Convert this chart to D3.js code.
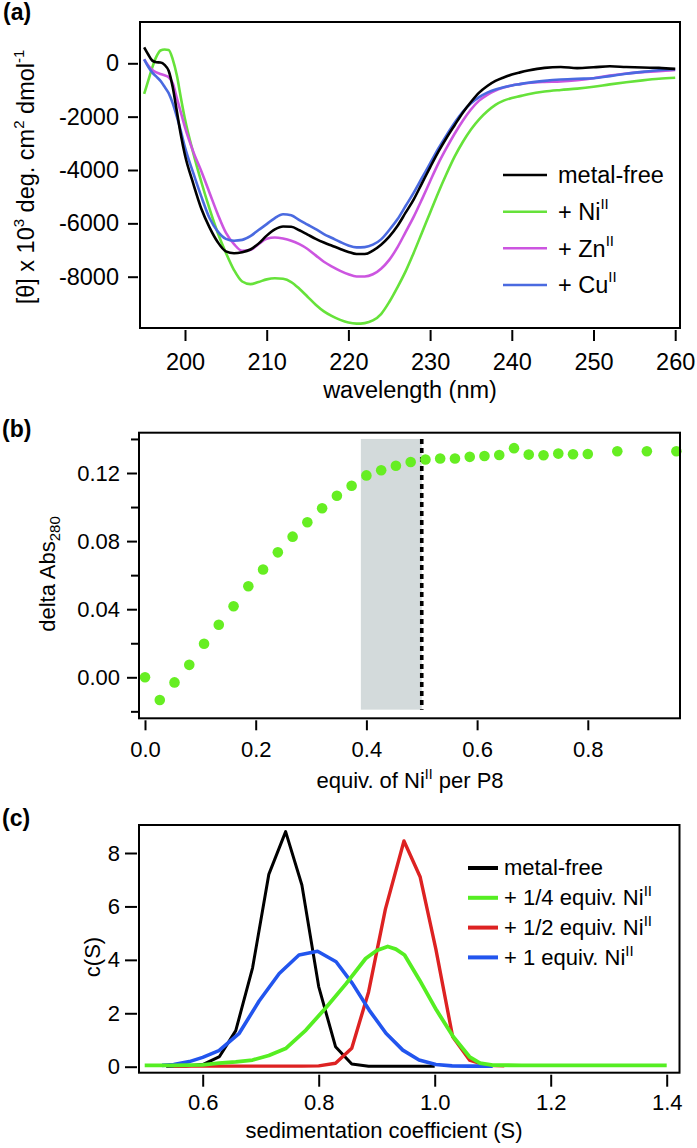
<!DOCTYPE html>
<html><head><meta charset="utf-8">
<script src="https://cdn.jsdelivr.net/npm/d3@7"></script>
<style>
body{margin:0;background:#fff;}
svg{display:block;font-family:"Liberation Sans",Arial,Helvetica,sans-serif;}
</style></head><body>
<svg id="fig" width="697" height="1148"></svg>
<script>
// ---------- Panel (a): CD spectra ----------
const cdWavelength = [195,195.5,196,196.5,197,197.5,198,198.5,199,199.5,200,
  201,202,203,204,205,206,207,208,209,210,211,212,213,214,215,216,217,218,219,220,
  221,222,223,224,225,226,227,228,229,230,231,232,233,234,235,236,237,238,239,240,241,242,
  244,246,248,250,252,254,256,258,260];
const cdMetalFree = [600,330,100,40,30,-60,-280,-900,-1800,-2700,-3450,
  -4500,-5450,-6150,-6700,-7050,-7120,-7080,-6980,-6760,-6460,-6230,-6120,-6130,-6260,-6420,-6580,-6720,-6840,-6960,-7070,
  -7150,-7150,-7020,-6800,-6500,-6100,-5600,-5100,-4500,-3900,-3320,-2800,-2320,-1850,-1450,-1100,-850,-660,-530,-420,-340,-270,
  -170,-140,-180,-150,-110,-140,-160,-170,-210];
const cdNi = [-1150,-650,-150,250,480,520,500,150,-450,-1300,-2100,
  -3350,-4450,-5450,-6350,-7100,-7750,-8180,-8280,-8200,-8100,-8060,-8080,-8200,-8450,-8750,-9050,-9300,-9480,-9620,-9720,
  -9760,-9740,-9640,-9400,-8950,-8400,-7800,-7100,-6350,-5600,-4850,-4150,-3500,-2950,-2480,-2100,-1800,-1560,-1400,-1300,-1230,-1160,
  -1060,-1000,-950,-880,-790,-710,-640,-580,-540];
const cdZn = [150,-80,-250,-340,-400,-450,-520,-750,-1300,-1850,-2400,
  -3300,-4050,-4850,-5650,-6350,-6780,-7030,-7000,-6780,-6580,-6530,-6570,-6650,-6780,-6960,-7200,-7440,-7620,-7780,-7910,
  -7990,-7990,-7910,-7700,-7370,-6900,-6330,-5750,-5100,-4420,-3760,-3180,-2640,-2150,-1730,-1400,-1180,-1020,-910,-830,-780,-740,
  -700,-680,-630,-560,-460,-380,-330,-300,-250];
const cdCu = [150,-130,-350,-500,-660,-880,-1120,-1500,-2000,-2550,-3150,
  -4100,-5000,-5800,-6300,-6580,-6650,-6620,-6480,-6250,-6030,-5800,-5660,-5700,-5880,-6050,-6220,-6400,-6550,-6700,-6830,
  -6900,-6890,-6800,-6600,-6250,-5850,-5350,-4850,-4300,-3750,-3200,-2700,-2230,-1820,-1500,-1270,-1100,-980,-900,-830,-780,-730,
  -660,-610,-580,-560,-480,-390,-320,-260,-225];
const cdLegendBase = ["metal-free","+ Ni","+ Zn","+ Cu"];
const cdLegendSup = ["","II","II","II"];
const cdXTicks = [200,210,220,230,240,250,260];
const cdYTicks = [0,-2000,-4000,-6000,-8000];
const cdYTickLabels = ["0","-2000","-4000","-6000","-8000"];

// ---------- Panel (b): titration ----------
const titrEquiv = [0,0.0267,0.0533,0.08,0.1067,0.1333,0.16,0.1867,0.2133,0.24,0.2667,0.2933,0.32,0.3467,0.3733,
  0.4,0.4267,0.4533,0.48,0.5067,0.5333,0.56,0.5867,0.6133,0.64,0.6667,0.6933,0.72,0.7467,0.7733,0.8,0.8533,0.9067,0.96];
const titrDeltaAbs = [0,-0.0133,-0.003,0.0073,0.0197,0.0309,0.0417,0.0535,0.0633,0.0734,0.0826,0.0911,0.0993,0.1066,0.1125,
  0.1186,0.1216,0.1243,0.1265,0.1279,0.1285,0.1285,0.1295,0.1300,0.1306,0.1346,0.1308,0.1304,0.1314,0.1310,0.1312,0.1328,0.1328,0.1328];
const titrShadeX = [0.39,0.5];
const titrShadeY = [-0.019,0.14];
const titrEndpoint = 0.5;
const titrXTicks = [0,0.2,0.4,0.6,0.8];
const titrXTickLabels = ["0.0","0.2","0.4","0.6","0.8"];
const titrYTicks = [0,0.04,0.08,0.12];
const titrYTickLabels = ["0.00","0.04","0.08","0.12"];
const titrYMinorTicks = [-0.02,0.02,0.06,0.10,0.14];

// ---------- Panel (c): sedimentation ----------
const sedMetalFreeS = [0.537,0.571,0.6,0.629,0.657,0.686,0.714,0.743,0.771,0.80,0.829,0.857,0.886,0.914,1.0];
const sedMetalFreeC = [0.02,0.03,0.08,0.38,1.35,3.7,7.2,8.8,6.8,3.0,0.75,0.1,0.02,0.02,0.02];
const sedHalfS = [0.55,0.686,0.743,0.771,0.80,0.829,0.857,0.886,0.915,0.947,0.975,1.002,1.031,1.06,1.089,1.12];
const sedHalfC = [0.02,0.02,0.02,0.02,0.03,0.13,0.69,2.8,5.9,8.45,7.1,4.4,1.12,0.25,0.05,0.03];
const sedOneS = [0.53,0.55,0.577,0.6,0.628,0.663,0.697,0.732,0.766,0.798,0.83,0.858,0.887,0.916,0.945,0.973,1.002,1.03,1.06,1.1];
const sedOneC = [0.05,0.08,0.19,0.35,0.6,1.25,2.45,3.49,4.18,4.32,3.93,3.12,2.12,1.25,0.62,0.25,0.08,0.03,0.02,0.02];
const sedQuarterS = [0.5,0.55,0.6,0.628,0.657,0.686,0.714,0.743,0.778,0.812,0.847,0.881,0.9,0.919,0.933,0.948,0.974,1.003,1.032,1.06,1.078,1.1,1.15,1.2,1.3,1.4];
const sedQuarterC = [0.05,0.05,0.07,0.13,0.18,0.25,0.42,0.68,1.37,2.2,3.1,4.05,4.35,4.5,4.4,4.18,3.24,2.12,1.12,0.37,0.13,0.06,0.05,0.05,0.05,0.05];
const sedLegendBase = ["metal-free","+ 1/4 equiv. Ni","+ 1/2 equiv. Ni","+ 1 equiv. Ni"];
const sedLegendSup = ["","II","II","II"];
const sedXTicks = [0.6,0.8,1.0,1.2,1.4];
const sedXTickLabels = ["0.6","0.8","1.0","1.2","1.4"];
const sedYTicks = [0,2,4,6,8];

// ================= drawing =================
const svg = d3.select("#fig");
const FONT_A = 23.5, FONT_B = 22;

function rich(g, x, y, parts, size, anchor, transform) {
  const t = g.append("text").attr("x", x).attr("y", y)
    .attr("font-size", size).attr("text-anchor", anchor || "start").attr("fill", "#000");
  if (transform) t.attr("transform", transform);
  let cur = 0;
  parts.forEach(p => {
    const target = p.shift || 0;
    const ts = t.append("tspan").text(p.t).attr("dy", target - cur);
    if (p.size) ts.attr("font-size", p.size);
    cur = target;
  });
  return t;
}
function box(b) {
  svg.append("rect").attr("x", b.x0).attr("y", b.y0).attr("width", b.x1 - b.x0).attr("height", b.y1 - b.y0)
    .attr("fill", "none").attr("stroke", "#000").attr("stroke-width", 2);
}
function styleAxis(g, fs) {
  g.select(".domain").remove();
  g.selectAll(".tick line").attr("stroke", "#000").attr("stroke-width", 2);
  g.selectAll(".tick text").attr("font-size", fs).attr("fill", "#000")
    .attr("font-family", '"Liberation Sans",Arial,Helvetica,sans-serif');
}
function clip(id, b) {
  svg.append("clipPath").attr("id", id).append("rect")
    .attr("x", b.x0).attr("y", b.y0).attr("width", b.x1 - b.x0).attr("height", b.y1 - b.y0);
}

// ----- Panel (a) -----
{
  const b = {x0: 140, y0: 22, x1: 680, y1: 328};
  const x = d3.scaleLinear().domain([200, 260]).range([185, 675.2]);
  const y = d3.scaleLinear().domain([0, -8000]).range([63.3, 276.7]);
  clip("clipA", b);
  const colors = ["#000000", "#66e23a", "#cc55e0", "#4a6ae0"];
  const series = [cdMetalFree, cdNi, cdZn, cdCu];
  const line = d3.line().curve(d3.curveMonotoneX);
  const g = svg.append("g").attr("clip-path", "url(#clipA)");
  [1, 2, 3, 0].forEach(i => {
    g.append("path").attr("d", line(cdWavelength.map((w, k) => [x(w), y(series[i][k])])))
      .attr("fill", "none").attr("stroke", colors[i]).attr("stroke-width", 2.6).attr("stroke-linejoin", "round");
  });
  box(b);
  svg.append("g").attr("transform", `translate(${b.x0 - 2},0)`)
    .call(d3.axisLeft(y).tickValues(cdYTicks).tickFormat((d, i) => cdYTickLabels[i]).tickSize(10).tickPadding(9).tickSizeOuter(0))
    .call(gg => styleAxis(gg, FONT_A));
  svg.append("g").attr("transform", `translate(0,${b.y1 + 2})`)
    .call(d3.axisBottom(x).tickValues(cdXTicks).tickFormat(d3.format("d")).tickSize(11).tickPadding(12).tickSizeOuter(0))
    .call(gg => styleAxis(gg, FONT_A));
  // legend
  const rows = [175, 211.7, 248.3, 285];
  cdLegendBase.forEach((t, i) => {
    svg.append("line").attr("x1", 503).attr("x2", 547).attr("y1", rows[i]).attr("y2", rows[i])
      .attr("stroke", colors[i]).attr("stroke-width", 2.6);
    const parts = [{t: t}];
    if (cdLegendSup[i]) parts.push({t: cdLegendSup[i], size: 15, shift: -11});
    rich(svg, 558, rows[i] + 8.3, parts, FONT_A, "start");
  });
  // titles
  rich(svg, 410, 398, [{t: "wavelength (nm)"}], FONT_A, "middle");
  rich(svg, 0, 0, [{t: "[θ] x 10"}, {t: "3", size: 15, shift: -10}, {t: " deg. cm"}, {t: "2", size: 15, shift: -10},
    {t: " dmol"}, {t: "-1", size: 15, shift: -10}], FONT_A, "middle", "translate(34,177) rotate(-90)");
  svg.append("text").attr("x", 3).attr("y", 20).attr("font-size", 23).attr("font-weight", "bold").text("(a)");
}

// ----- Panel (b) -----
{
  const b = {x0: 139, y0: 432.7, x1: 680, y1: 718.3};
  const x = d3.scaleLinear().domain([0, 0.8]).range([145, 587.8]);
  const y = d3.scaleLinear().domain([0, 0.12]).range([677.3, 473]);
  svg.append("rect").attr("x", x(titrShadeX[0])).attr("y", y(titrShadeY[1]))
    .attr("width", x(titrShadeX[1]) - x(titrShadeX[0])).attr("height", y(titrShadeY[0]) - y(titrShadeY[1]))
    .attr("fill", "#d3dadb");
  svg.append("line").attr("x1", x(titrEndpoint)).attr("x2", x(titrEndpoint))
    .attr("y1", y(titrShadeY[1])).attr("y2", y(titrShadeY[0]))
    .attr("stroke", "#000").attr("stroke-width", 3.6).attr("stroke-dasharray", "5,4");
  svg.append("g").selectAll("circle").data(titrEquiv).join("circle")
    .attr("cx", d => x(d)).attr("cy", (d, i) => y(titrDeltaAbs[i])).attr("r", 5.3).attr("fill", "#66ee22");
  box(b);
  svg.append("g").attr("transform", `translate(${b.x0 - 2},0)`)
    .call(d3.axisLeft(y).tickValues(titrYTicks).tickFormat((d, i) => titrYTickLabels[i]).tickSize(10).tickPadding(7).tickSizeOuter(0))
    .call(gg => styleAxis(gg, FONT_B));
  svg.append("g").attr("transform", `translate(${b.x0 - 1},0)`)
    .call(d3.axisLeft(y).tickValues(titrYMinorTicks).tickFormat("").tickSize(7).tickSizeOuter(0))
    .call(gg => styleAxis(gg, FONT_B));
  svg.append("g").attr("transform", `translate(0,${b.y1 + 2})`)
    .call(d3.axisBottom(x).tickValues(titrXTicks).tickFormat((d, i) => titrXTickLabels[i]).tickSize(10).tickPadding(11).tickSizeOuter(0))
    .call(gg => styleAxis(gg, FONT_B));
  rich(svg, 410, 788, [{t: "equiv. of Ni"}, {t: "II", size: 14, shift: -9}, {t: " per P8"}], FONT_B, "middle");
  rich(svg, 0, 0, [{t: "delta Abs"}, {t: "280", size: 15, shift: 5}], FONT_B, "middle", "translate(55,574) rotate(-90)");
  svg.append("text").attr("x", 2).attr("y", 437).attr("font-size", 23).attr("font-weight", "bold").text("(b)");
}

// ----- Panel (c) -----
{
  const b = {x0: 139, y0: 825, x1: 679.5, y1: 1072.7};
  const x = d3.scaleLinear().domain([0.6, 1.4]).range([202.7, 666.7]);
  const y = d3.scaleLinear().domain([0, 8]).range([1066.7, 853]);
  clip("clipC", b);
  const g = svg.append("g").attr("clip-path", "url(#clipC)");
  const line = d3.line();
  const sets = [
    {s: sedMetalFreeS, c: sedMetalFreeC, col: "#000000", w: 3},
    {s: sedHalfS, c: sedHalfC, col: "#dd2222", w: 3.4},
    {s: sedOneS, c: sedOneC, col: "#2255ee", w: 3.6},
    {s: sedQuarterS, c: sedQuarterC, col: "#55ee22", w: 3.8}
  ];
  sets.forEach(d => {
    g.append("path").attr("d", line(d.s.map((v, k) => [x(v), y(d.c[k])])))
      .attr("fill", "none").attr("stroke", d.col).attr("stroke-width", d.w).attr("stroke-linejoin", "round");
  });
  box(b);
  svg.append("g").attr("transform", `translate(${b.x0 - 2},0)`)
    .call(d3.axisLeft(y).tickValues(sedYTicks).tickFormat(d3.format("d")).tickSize(12).tickPadding(5).tickSizeOuter(0))
    .call(gg => styleAxis(gg, FONT_B));
  svg.append("g").attr("transform", `translate(0,${b.y1 + 2})`)
    .call(d3.axisBottom(x).tickValues(sedXTicks).tickFormat((d, i) => sedXTickLabels[i]).tickSize(12).tickPadding(8).tickSizeOuter(0))
    .call(gg => styleAxis(gg, FONT_B));
  const legCols = ["#000000", "#55ee22", "#dd2222", "#2255ee"];
  const rows = [868, 897.8, 927.6, 957.4];
  sedLegendBase.forEach((t, i) => {
    svg.append("line").attr("x1", 468).attr("x2", 498).attr("y1", rows[i]).attr("y2", rows[i])
      .attr("stroke", legCols[i]).attr("stroke-width", 4);
    const parts = [{t: t}];
    if (sedLegendSup[i]) parts.push({t: sedLegendSup[i], size: 15, shift: -9});
    rich(svg, 504, rows[i] + 7.3, parts, FONT_B, "start");
  });
  rich(svg, 384, 1138, [{t: "sedimentation coefficient (S)"}], FONT_B, "middle");
  rich(svg, 0, 0, [{t: "c(S)"}], FONT_B, "middle", "translate(100,957) rotate(-90)");
  svg.append("text").attr("x", 2).attr("y", 825.5).attr("font-size", 23).attr("font-weight", "bold").text("(c)");
}
</script>
</body></html>
